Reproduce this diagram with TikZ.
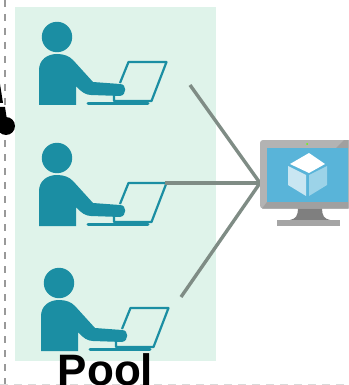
\documentclass[tikz,border=0pt]{standalone}
\usepackage{fontspec}
\setmainfont{Liberation Sans}
\definecolor{pool}{HTML}{DFF3EA}
\definecolor{teal1}{HTML}{1B8EA3}
\definecolor{conn}{HTML}{7F8C85}
\definecolor{bezel}{HTML}{B3B3B3}
\definecolor{bezeldk}{HTML}{A0A0A0}
\definecolor{screen}{HTML}{59B4D9}
\definecolor{standc}{HTML}{7F7F7F}
\definecolor{basec}{HTML}{A5A5A5}
\definecolor{faceL}{HTML}{C9E6F2}
\definecolor{faceR}{HTML}{9CD3E8}
\tikzset{
  px/.style={x=1pt,y=-1pt},
  tealfill/.style={fill=teal1,draw=none},
  laptop/.style={draw=teal1,line width=2.2pt,line join=round},
  connector/.style={draw=conn,line width=3.4pt},
  guide/.style={draw=gray!80,line width=1.6pt,dash pattern=on 7pt off 7pt}
}
\newcommand{\person}[2]{%
\begin{scope}[shift={(#1,#2)}]
 \fill[tealfill] (57,37) circle (15.2);
 \fill[tealfill] (39,105) -- (39,70) .. controls (39,60) and (47,54) .. (57,54)
   .. controls (64,54) and (69,56) .. (73,60) -- (93,82) -- (120,84)
   .. controls (127,84) and (127,95) .. (120,96) -- (91,95) .. controls (86,95) and (81,92) .. (76,86) -- (76,105) -- cycle;
 \draw[laptop] (120,83) -- (128.5,62) -- (166.5,62) -- (151.5,101) -- (114,101) -- (114,96);
 \draw[draw=teal1,line width=3pt,line cap=round] (88,103.7) -- (148,103.7);
\end{scope}}
\begin{document}
\begin{tikzpicture}[px]
\useasboundingbox (0,0) rectangle (348,385);
\fill[white] (0,0) rectangle (348,385);
\node[inner sep=0,minimum width=201pt,minimum height=354pt,fill=pool,anchor=north west] (poolbox) at (15,7) {};
\coordinate (guideT) at (5,0); \coordinate (guideB) at (5,385);
\coordinate (guideL) at (0,384.5); \coordinate (guideR) at (348,384.5);
\draw[guide] (guideT) -- (guideB);
\draw[draw=gray!30,line width=1pt,dash pattern=on 8pt off 6pt] (guideL) -- (guideR);
% black fragments at the left edge
\fill[black] (0,84) -- (3,103) -- (0,103) -- cycle;
\fill[black] (0,107) -- (5,107) -- (7,120) -- (0,120) -- cycle;
\fill[black] (6,126) circle (9);
\person{0}{0}
\person{0}{121}
\person{2}{246}
\node[inner sep=0,minimum size=0pt] (mon) at (260,183) {};
\coordinate (a1) at (190,85); \coordinate (a2) at (165,183); \coordinate (a3) at (181,297);
\draw[connector] (a1) -- (mon.center);
\draw[connector] (a2) -- (mon.center);
\draw[connector] (a3) -- (mon.center);
% monitor
\fill[bezel,rounded corners=3pt] (260,140) rectangle (352,208.5);
\fill[bezeldk] (267,202) -- (348,202) -- (348,208.5) -- (262,208.5) -- cycle;
\fill[bezeldk] (336,148) -- (348,148) -- (348,140) -- (344,140) -- cycle;
\fill[screen] (267,148) rectangle (348,202);
\fill[standc] (298,208.5) -- (322,208.5) .. controls (322,215) and (324,219) .. (330,220) -- (290,220) .. controls (296,219) and (298,215) .. (298,208.5) -- cycle;
\fill[basec] (277,220) rectangle (340,226);
\fill[white] (309,153) -- (325,164) -- (309,173) -- (290,164) -- cycle;
\fill[faceL] (288,166) -- (306,175) -- (306,196) -- (288,185) -- cycle;
\fill[faceR] (327,166) -- (309,175) -- (309,196) -- (327,185) -- cycle;
\fill[green!60!yellow] (307,144) circle (1);
\node[inner sep=0,anchor=base,font=\bfseries\fontsize{44}{44}\selectfont,text=black] (pooltext) at (105.5,385) {Pool};
\end{tikzpicture}
\end{document}
